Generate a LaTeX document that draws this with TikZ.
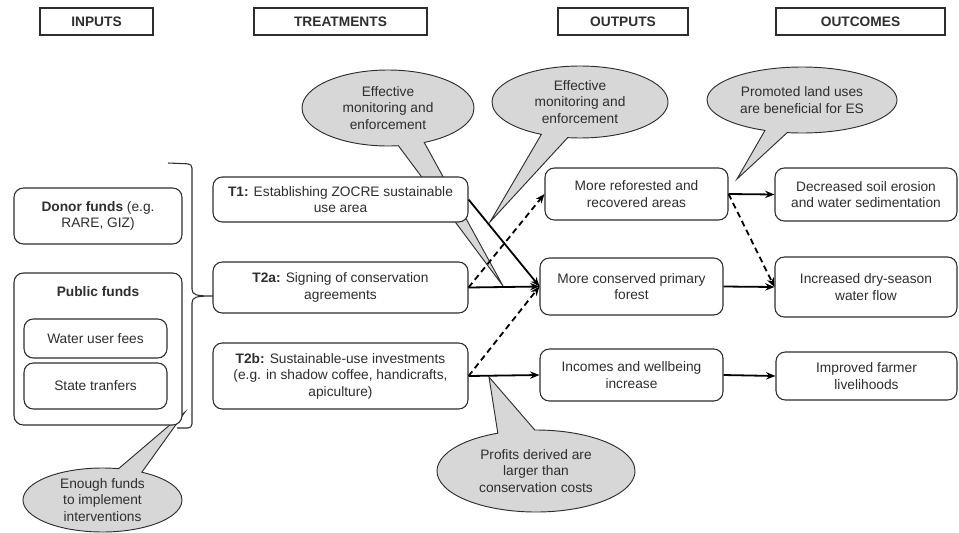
\documentclass[tikz,border=0pt]{standalone}
\usepackage{fontspec}
\setmainfont{Liberation Sans}
\usetikzlibrary{arrows.meta,shapes.callouts,backgrounds}
\definecolor{ink}{HTML}{2E2E2E}
\definecolor{bub}{HTML}{D7D7D7}
\begin{document}
\begin{tikzpicture}[x=0.75pt,y=-0.75pt,
  font=\fontsize{10.3}{12.4}\selectfont, text=ink,
  wh/.style 2 args={minimum width={#1*0.75pt},minimum height={#2*0.75pt}},
  head/.style={draw=ink, line width=1.4pt, fill=white, font=\fontsize{10.3}{12.4}\selectfont\bfseries, inner sep=0pt},
  rbox/.style={draw=ink, line width=0.8pt, rounded corners=7pt, fill=white, align=center, inner sep=0pt},
  bubble/.style={ellipse callout, draw=ink, fill=bub, line width=0.7pt, align=center, inner sep=0pt, callout pointer arc=18},
  arr/.style={-{Stealth[length=7pt,width=5.5pt]}, line width=1.35pt, draw=black},
  darr/.style={arr, dash pattern=on 4.5pt off 3pt},
  bracestyle/.style={draw=ink, line width=0.8pt}]
\useasboundingbox (0,0) rectangle (959,532);

% headers
\node[head, wh={113}{27}] (hin) at (96.5,21.5) {INPUTS};
\node[head, wh={173}{27}] (htr) at (340.5,21.5) {TREATMENTS};
\node[head, wh={130}{27}] (hout) at (623,21.5) {OUTPUTS};
\node[head, wh={169}{27}] (hoc) at (860.5,21.5) {OUTCOMES};

% inputs
\node[rbox, wh={168}{56}] (donor) at (98,216) {\textbf{Donor funds} (e.g.\\RARE, GIZ)};
\node[rbox, wh={168}{152}] (public) at (98,349) {};
\node (publab) at (98,292) {\textbf{Public funds}};
\node[rbox, wh={143}{39}] (water) at (95.5,338.5) {Water user fees};
\node[rbox, wh={143}{46}] (state) at (95.5,386) {State tranfers};

% brace
\draw[bracestyle, rounded corners=3pt] (168,163) -- (192,164) -- (192,289);
\draw[bracestyle] (192,289) .. controls (192,295) and (196,296) .. (213,296)
  .. controls (196,296) and (192,297) .. (192,303);
\draw[bracestyle, rounded corners=3pt] (192,303) -- (192,428) -- (177,428);

% treatments
\node[rbox, wh={255}{45}] (t1) at (340.5,199.5) {\textbf{T1:} Establishing ZOCRE sustainable\\use area};
\node[rbox, wh={255}{51}] (t2a) at (340.5,287.5) {\textbf{T2a:} Signing of conservation\\agreements};
\node[rbox, wh={255}{66}] (t2b) at (340.5,376) {\textbf{T2b:} Sustainable-use investments\\(e.g. in shadow coffee, handicrafts,\\apiculture)};

% outputs
\node[rbox, wh={183}{52}] (refor) at (636.5,194) {More reforested and\\recovered areas};
\node[rbox, wh={183}{57}] (cons) at (631.5,286.5) {More conserved primary\\forest};
\node[rbox, wh={183}{52}] (inc) at (631.5,375) {Incomes and wellbeing\\increase};

% outcomes
\node[rbox, wh={182}{53}] (soil) at (866,194.5) {Decreased soil erosion\\and water sedimentation};
\node[rbox, wh={182}{60}] (flow) at (866,287) {Increased dry-season\\water flow};
\node[rbox, wh={181}{48}] (farm) at (866.5,376) {Improved farmer\\livelihoods};

% callouts (behind boxes)
\begin{pgfonlayer}{background}
\node[bubble, wh={172}{76}, callout absolute pointer={(503,286)}] (c1) at (388,108) {Effective\\monitoring and\\enforcement};
\node[bubble, wh={176}{72}, callout absolute pointer={(490,222)}] (c2) at (580,102) {Effective\\monitoring and\\enforcement};
\node[bubble, wh={190}{66}, callout absolute pointer={(737,179)}, callout pointer arc=14] (c3) at (802,100) {Promoted land uses\\are beneficial for ES};
\node[bubble, wh={159}{64}, callout absolute pointer={(185,412)}] (c4) at (102.5,500) {Enough funds\\to implement\\interventions};
\node[bubble, wh={198}{82}, callout absolute pointer={(489,377)}, callout pointer arc=22] (c5) at (536,471) {Profits derived are\\larger than\\conservation costs};
\end{pgfonlayer}

% connectors
\draw[arr] (t1.east) -- (cons.west);
\draw[arr] (t2a.east) -- (cons.west);
\draw[darr] (t2a.east) -- (refor.west);
\draw[darr] (t2b.east) -- (cons.west);
\draw[arr] (t2b.east) -- (inc.west);
\draw[arr] (refor.east) -- (soil.west);
\draw[darr] (refor.east) -- (flow.west);
\draw[arr] (cons.east) -- (flow.west);
\draw[arr] (inc.east) -- (farm.west);
\end{tikzpicture}
\end{document}
